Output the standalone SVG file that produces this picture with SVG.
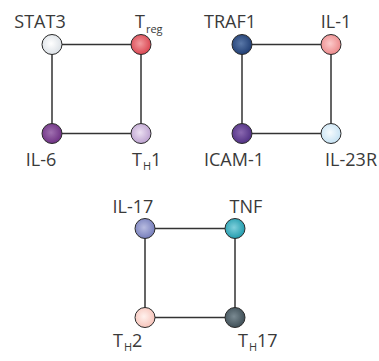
<svg xmlns="http://www.w3.org/2000/svg" width="379" height="361" viewBox="0 0 379 361">
<style>
.lbl{font-family:"Open Sans","Noto Sans","Liberation Sans",sans-serif;font-size:18px;fill:#3a3a3a}
.sub{font-size:11px}
.edge{stroke:#333;stroke-width:1.5;fill:none}
.node{stroke:#2a2a2a;stroke-width:1}
</style>
<defs>
<radialGradient id="gSTAT3" cx="0.45" cy="0.45" r="0.6"><stop offset="0" stop-color="#ffffff"/><stop offset="1" stop-color="#d8dee4"/></radialGradient>
<radialGradient id="gTreg" cx="0.45" cy="0.45" r="0.6"><stop offset="0" stop-color="#f29a9e"/><stop offset="1" stop-color="#d8404c"/></radialGradient>
<radialGradient id="gIL6" cx="0.45" cy="0.45" r="0.6"><stop offset="0" stop-color="#a070b0"/><stop offset="1" stop-color="#6a2c80"/></radialGradient>
<radialGradient id="gTH1" cx="0.45" cy="0.45" r="0.6"><stop offset="0" stop-color="#ece0f2"/><stop offset="1" stop-color="#b89ccc"/></radialGradient>
<radialGradient id="gTRAF1" cx="0.45" cy="0.45" r="0.6"><stop offset="0" stop-color="#5a78a8"/><stop offset="1" stop-color="#1c3a70"/></radialGradient>
<radialGradient id="gIL1" cx="0.45" cy="0.45" r="0.6"><stop offset="0" stop-color="#fccaca"/><stop offset="1" stop-color="#ea8486"/></radialGradient>
<radialGradient id="gICAM1" cx="0.45" cy="0.45" r="0.6"><stop offset="0" stop-color="#8a68b0"/><stop offset="1" stop-color="#4c2c80"/></radialGradient>
<radialGradient id="gIL23R" cx="0.45" cy="0.45" r="0.6"><stop offset="0" stop-color="#f6fbfe"/><stop offset="1" stop-color="#c2e0f2"/></radialGradient>
<radialGradient id="gIL17" cx="0.45" cy="0.45" r="0.6"><stop offset="0" stop-color="#b8bce0"/><stop offset="1" stop-color="#7078b8"/></radialGradient>
<radialGradient id="gTNF" cx="0.45" cy="0.45" r="0.6"><stop offset="0" stop-color="#80d0dc"/><stop offset="1" stop-color="#1a98aa"/></radialGradient>
<radialGradient id="gTH2" cx="0.45" cy="0.45" r="0.6"><stop offset="0" stop-color="#fff2ee"/><stop offset="1" stop-color="#f6c0b6"/></radialGradient>
<radialGradient id="gTH17" cx="0.45" cy="0.45" r="0.6"><stop offset="0" stop-color="#7a8a92"/><stop offset="1" stop-color="#3a4a52"/></radialGradient>
</defs>
<g id="connectors">
<rect class="edge" x="52" y="44.5" width="89" height="89"/>
<rect class="edge" x="242" y="44.5" width="89" height="89"/>
<rect class="edge" x="145" y="228.5" width="90" height="89"/>
</g>
<g id="STAT3"><circle class="node" cx="52" cy="44.5" r="10" fill="url(#gSTAT3)"/><text class="lbl" x="40" y="28" text-anchor="middle">STAT3</text></g>
<g id="Treg"><circle class="node" cx="141" cy="44.5" r="10" fill="url(#gTreg)"/><text class="lbl" x="135" y="28">T<tspan class="sub" dx="1" dy="5">reg</tspan></text></g>
<g id="IL-6"><circle class="node" cx="52" cy="133.5" r="10" fill="url(#gIL6)"/><text class="lbl" x="41" y="166" text-anchor="middle">IL-6</text></g>
<g id="TH1"><circle class="node" cx="141" cy="133.5" r="10" fill="url(#gTH1)"/><text class="lbl" x="132" y="166">T<tspan class="sub" dx="1" dy="4">H</tspan><tspan dy="-4">1</tspan></text></g>
<g id="TRAF1"><circle class="node" cx="242" cy="44.5" r="10" fill="url(#gTRAF1)"/><text class="lbl" x="230" y="28" text-anchor="middle">TRAF1</text></g>
<g id="IL-1"><circle class="node" cx="331" cy="44.5" r="10" fill="url(#gIL1)"/><text class="lbl" x="336" y="28" text-anchor="middle">IL-1</text></g>
<g id="ICAM-1"><circle class="node" cx="242" cy="133.5" r="10" fill="url(#gICAM1)"/><text class="lbl" x="234" y="166" text-anchor="middle">ICAM-1</text></g>
<g id="IL-23R"><circle class="node" cx="331" cy="133.5" r="10" fill="url(#gIL23R)"/><text class="lbl" x="377" y="166" text-anchor="end">IL-23R</text></g>
<g id="IL-17"><circle class="node" cx="145" cy="228.5" r="10" fill="url(#gIL17)"/><text class="lbl" x="133" y="213" text-anchor="middle">IL-17</text></g>
<g id="TNF"><circle class="node" cx="235" cy="228.5" r="10" fill="url(#gTNF)"/><text class="lbl" x="246" y="213" text-anchor="middle">TNF</text></g>
<g id="TH2"><circle class="node" cx="145" cy="317.5" r="10" fill="url(#gTH2)"/><text class="lbl" x="113" y="347">T<tspan class="sub" dx="1" dy="4">H</tspan><tspan dy="-4">2</tspan></text></g>
<g id="TH17"><circle class="node" cx="235" cy="317.5" r="10" fill="url(#gTH17)"/><text class="lbl" x="238" y="347">T<tspan class="sub" dx="1" dy="4">H</tspan><tspan dy="-4">17</tspan></text></g>
</svg>
